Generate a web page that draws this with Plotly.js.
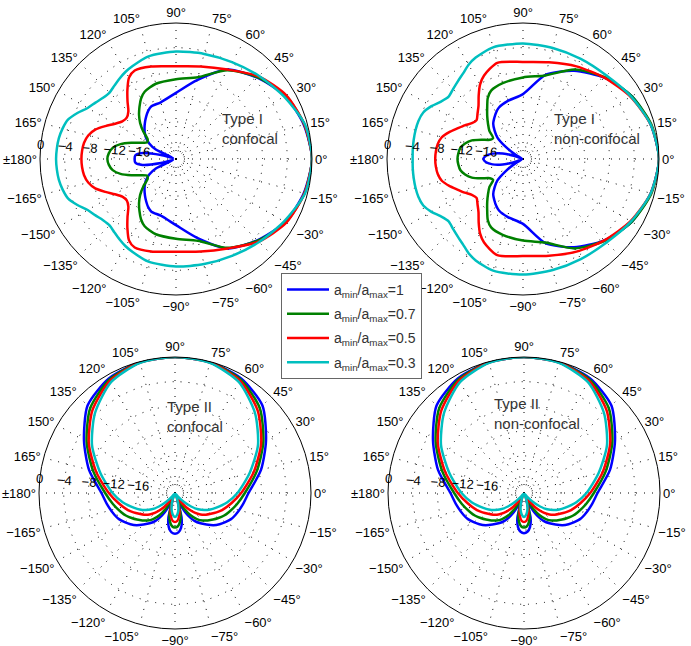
<!DOCTYPE html>
<html>
<head>
<meta charset="utf-8">
<script src="https://cdn.plot.ly/plotly-3.0.1.min.js"></script>
<style>html,body{margin:0;padding:0;background:#fff;}#chart{width:691px;height:646px;}</style>
</head>
<body>
<div id="chart"></div>
<script>
// ---- data (dB, normalised; center of plot = -22 dB) ----
const thetaI = [0,15,30,45,60,75,90,105,115,120,125,130,135,140,145,150,155,160,165,170,175,180,
  185,190,195,200,205,210,215,220,225,230,235,240,245,255,270,285,300,315,330,345,360];

const blueTL  = [0,-0.6,-1.6,-3.4,-5.3,-8.8,-11.3,-12.5,-12.6,-13.0,-13.6,-14.2,-14.8,-15.4,-16.1,-17.0,-18.4,-21.5,-19.5,-16.5,-15.4,-15.3,
  -15.4,-16.5,-19.5,-21.5,-18.4,-17.0,-16.1,-15.4,-14.8,-14.2,-13.6,-13.0,-12.6,-12.5,-11.3,-8.8,-5.3,-3.4,-1.6,-0.6,0];
const greenTL = [0,-0.5,-1.5,-3.3,-5.4,-8.3,-9.1,-9.4,-10.0,-10.7,-11.7,-12.7,-13.8,-15.1,-16.4,-16.6,-15.8,-14.3,-12.7,-11.6,-11.1,-10.9,
  -11.1,-11.6,-12.7,-14.3,-15.8,-16.6,-16.4,-15.1,-13.8,-12.7,-11.7,-10.7,-10.0,-9.4,-9.1,-8.3,-5.4,-3.3,-1.5,-0.5,0];
const redTL   = [0,-0.5,-1.4,-3.1,-5.3,-6.5,-7.0,-6.5,-6.2,-6.8,-8.3,-9.8,-11.1,-11.6,-11.4,-10.6,-9.4,-8.1,-7.3,-6.9,-6.75,-6.7,
  -6.75,-6.9,-7.3,-8.1,-9.4,-10.6,-11.4,-11.6,-11.1,-9.8,-8.3,-6.8,-6.2,-6.5,-7.0,-6.5,-5.3,-3.1,-1.4,-0.5,0];
const cyanTL  = [0,-0.4,-1.8,-3.0,-3.9,-4.4,-4.6,-4.8,-5.4,-5.7,-6.1,-6.5,-6.8,-6.6,-6.1,-5.5,-4.4,-3.4,-3.0,-2.75,-2.65,-2.6,
  -2.65,-2.75,-3.0,-3.4,-4.4,-5.5,-6.1,-6.6,-6.8,-6.5,-6.1,-5.7,-5.4,-4.8,-4.6,-4.4,-3.9,-3.0,-1.8,-0.4,0];

const blueTR  = [0,-0.6,-1.7,-3.4,-5.5,-7.9,-11.5,-12.3,-12.8,-13.3,-13.9,-14.5,-15.5,-16.6,-18.6,-20.5,-21.8,-20.6,-18.6,-17.0,-16.0,-15.6,
  -16.0,-17.0,-18.6,-20.6,-21.8,-20.5,-18.6,-16.6,-15.5,-14.5,-13.9,-13.3,-12.8,-12.3,-11.5,-7.9,-5.5,-3.4,-1.7,-0.6,0];
const greenTR = [0,-0.5,-1.7,-3.3,-5.3,-8.0,-8.8,-9.3,-9.8,-10.6,-11.9,-13.0,-14.0,-14.9,-16.1,-15.8,-14.6,-13.2,-12.3,-11.7,-11.5,-11.4,
  -11.5,-11.7,-12.3,-13.2,-14.6,-15.8,-16.1,-14.9,-14.0,-13.0,-11.9,-10.6,-9.8,-9.3,-8.8,-8.0,-5.3,-3.3,-1.7,-0.5,0];
const redTR   = [0,-0.6,-1.9,-3.4,-4.7,-5.8,-6.3,-5.9,-7.1,-8.1,-9.5,-10.8,-11.6,-12.2,-11.9,-11.1,-10.3,-9.3,-8.4,-8.0,-7.85,-7.8,
  -7.85,-8.0,-8.4,-9.3,-10.3,-11.1,-11.9,-12.2,-11.6,-10.8,-9.5,-8.1,-7.1,-5.9,-6.3,-5.8,-4.7,-3.4,-1.9,-0.6,0];
const cyanTR  = [0,-0.6,-1.8,-2.9,-3.3,-3.4,-3.3,-3.3,-3.9,-4.4,-5.1,-5.6,-6.0,-6.3,-5.8,-4.9,-4.2,-4.0,-4.0,-4.05,-4.1,-4.15,
  -4.1,-4.05,-4.0,-4.0,-4.2,-4.9,-5.8,-6.3,-6.0,-5.6,-5.1,-4.4,-3.9,-3.3,-3.3,-3.4,-3.3,-2.9,-1.8,-0.6,0];

const thetaII = [-90,-85,-80,-75,-70,-65,-60,-55,-50,-45,-40,-35,-30,-25,-20,-10,0,15,30,45,60,75,90,
  105,120,135,150,165,180,190,200,205,210,215,220,225,230,235,240,245,250,255,260,265,270];

const blueBL  = [-15.4,-15.6,-16.3,-17.9,-21.0,-19.6,-17.8,-16.5,-15.6,-14.8,-13.9,-13.2,-12.6,-12.0,-11.6,-10.9,-10.1,-7.6,-5.0,-2.0,-0.6,-0.1,0,
  -0.1,-0.6,-2.0,-5.0,-7.6,-10.1,-10.9,-11.6,-12.0,-12.6,-13.2,-13.9,-14.8,-15.6,-16.5,-17.8,-19.6,-21.0,-17.9,-16.3,-15.6,-15.4];
const greenBL = [-16.4,-16.6,-17.3,-18.6,-20.6,-21.0,-19.2,-17.6,-16.5,-15.7,-15.1,-14.5,-13.9,-13.3,-12.8,-11.8,-10.7,-8.3,-5.5,-2.6,-0.8,-0.1,0,
  -0.1,-0.8,-2.6,-5.5,-8.3,-10.7,-11.8,-12.8,-13.3,-13.9,-14.5,-15.1,-15.7,-16.5,-17.6,-19.2,-21.0,-20.6,-18.6,-17.3,-16.6,-16.4];
const redBL   = [-17.3,-17.5,-18.2,-19.3,-20.8,-21.6,-21.2,-19.9,-18.6,-17.5,-16.6,-15.9,-15.3,-14.6,-13.9,-12.7,-11.3,-8.8,-5.9,-3.1,-1.0,-0.15,0,
  -0.15,-1.0,-3.1,-5.9,-8.8,-11.3,-12.7,-13.9,-14.6,-15.3,-15.9,-16.6,-17.5,-18.6,-19.9,-21.2,-21.6,-20.8,-19.3,-18.2,-17.5,-17.3];
const cyanBL  = [-18.1,-18.4,-19.0,-19.9,-21.0,-21.8,-21.8,-21.8,-21.3,-20.0,-18.6,-17.4,-16.5,-15.7,-15.0,-13.4,-11.9,-9.5,-6.5,-3.7,-1.3,-0.2,0,
  -0.2,-1.3,-3.7,-6.5,-9.5,-11.9,-13.4,-15.0,-15.7,-16.5,-17.4,-18.6,-20.0,-21.3,-21.8,-21.8,-21.8,-21.0,-19.9,-19.0,-18.4,-18.1];

const blueBR  = [-15.5,-15.7,-16.4,-17.9,-21.0,-19.6,-17.8,-16.5,-15.6,-14.8,-13.9,-13.2,-12.6,-12.0,-11.6,-10.9,-10.1,-7.6,-5.0,-2.0,-0.6,-0.1,0,
  -0.1,-0.6,-2.0,-5.0,-7.6,-10.1,-10.9,-11.6,-12.0,-12.6,-13.2,-13.9,-14.8,-15.6,-16.5,-17.8,-19.6,-21.0,-17.9,-16.4,-15.7,-15.5];
const greenBR = [-16.4,-16.6,-17.3,-18.6,-20.6,-21.0,-19.2,-17.6,-16.5,-15.7,-15.1,-14.5,-13.9,-13.3,-12.8,-11.8,-10.7,-8.3,-5.5,-2.6,-0.8,-0.1,0,
  -0.1,-0.8,-2.6,-5.5,-8.3,-10.7,-11.8,-12.8,-13.3,-13.9,-14.5,-15.1,-15.7,-16.5,-17.6,-19.2,-21.0,-20.6,-18.6,-17.3,-16.6,-16.4];
const redBR   = [-17.3,-17.5,-18.2,-19.3,-20.8,-21.6,-21.2,-19.9,-18.6,-17.5,-16.6,-15.9,-15.3,-14.6,-13.9,-12.7,-11.3,-8.8,-5.9,-3.1,-1.0,-0.15,0,
  -0.15,-1.0,-3.1,-5.9,-8.8,-11.3,-12.7,-13.9,-14.6,-15.3,-15.9,-16.6,-17.5,-18.6,-19.9,-21.2,-21.6,-20.8,-19.3,-18.2,-17.5,-17.3];
const cyanBR  = [-18.1,-18.4,-19.0,-19.9,-21.0,-21.8,-21.8,-21.8,-21.3,-20.0,-18.6,-17.4,-16.5,-15.7,-15.0,-13.4,-11.9,-9.5,-6.5,-3.7,-1.3,-0.2,0,
  -0.2,-1.3,-3.7,-6.5,-9.5,-11.9,-13.4,-15.0,-15.7,-16.5,-17.4,-18.6,-20.0,-21.3,-21.8,-21.8,-21.8,-21.0,-19.9,-19.0,-18.4,-18.1];

const seriesNames = ['a<sub>min</sub>/a<sub>max</sub>=1','a<sub>min</sub>/a<sub>max</sub>=0.7','a<sub>min</sub>/a<sub>max</sub>=0.5','a<sub>min</sub>/a<sub>max</sub>=0.3'];
const seriesColors = ['#0000ff','#008000','#ff0000','#00bfbf'];

const angTickVals = [0,15,30,45,60,75,90,105,120,135,150,165,180,195,210,225,240,255,270,285,300,315,330,345];
const angTickText = ['0°','15°','30°','45°','60°','75°','90°','105°','120°','135°','150°','165°','±180°',
  '−165°','−150°','−135°','−120°','−105°','−90°','−75°','−60°','−45°','−30°','−15°'];
const radTickVals = [-20,-16,-12,-8,-4,0];
const radTickText = ['','−16','−12','−8','−4','0'];

const panelTitles = ['Type I<br>confocal','Type I<br>non-confocal','Type II<br>confocal','Type II<br>non-confocal'];

// ---- build ----
const panels = [
  {sub:'polar',  theta:thetaI,  rs:[blueTL,greenTL,redTL,cyanTL]},
  {sub:'polar2', theta:thetaI,  rs:[blueTR,greenTR,redTR,cyanTR]},
  {sub:'polar3', theta:thetaII, rs:[blueBL,greenBL,redBL,cyanBL]},
  {sub:'polar4', theta:thetaII, rs:[blueBR,greenBR,redBR,cyanBR]}
];
const traces = [];
panels.forEach((p,pi)=>{
  p.rs.forEach((r,si)=>{
    traces.push({type:'scatterpolar', subplot:p.sub, theta:p.theta, r:r, mode:'lines',
      line:{color:seriesColors[si], width:2.5, shape:'spline', smoothing:0.7},
      name:seriesNames[si], showlegend: pi===0, legendgroup:'g'+si, hoverinfo:'skip'});
  });
});

function polarCfg(x0,x1,y0,y1){
  return {
    domain:{x:[x0/691,x1/691], y:[1-y1/646,1-y0/646]},
    bgcolor:'rgba(0,0,0,0)',
    radialaxis:{range:[-22,0], tickvals:radTickVals, ticktext:radTickText, angle:176, tickangle:180,
      showline:false, ticks:'', gridcolor:'#000', griddash:'1px,7px', gridwidth:1,
      tickfont:{family:'Arial, Liberation Sans, sans-serif', size:13, color:'#000'}},
    angularaxis:{tickvals:angTickVals, ticktext:angTickText, direction:'counterclockwise', rotation:0,
      showline:true, linecolor:'#000', linewidth:1, ticks:'', gridcolor:'#000', griddash:'1px,7px', gridwidth:1,
      tickfont:{family:'Arial, Liberation Sans, sans-serif', size:13, color:'#000'}}
  };
}

const annFont = {family:'Arial, Liberation Sans, sans-serif', size:15, color:'#333'};
function ann(i,cx,cy){
  return {text:panelTitles[i], x:cx/691, y:1-cy/646, xref:'paper', yref:'paper', showarrow:false,
    xanchor:'center', yanchor:'middle', align:'left', font:annFont};
}
const layout = {
  width:691, height:646, margin:{l:0,r:0,t:0,b:0}, paper_bgcolor:'#fff',
  showlegend:true,
  polar:  polarCfg(40,312,23,295),
  polar2: polarCfg(387,659,23,295),
  polar3: polarCfg(39,311,357,629),
  polar4: polarCfg(388,660,357,629),
  legend:{x:281/691, y:1-273/646, xanchor:'left', yanchor:'top', bgcolor:'#fff', bordercolor:'#666', borderwidth:1,
    itemwidth:42, tracegroupgap:3, traceorder:'grouped',
    font:{family:'Arial, Liberation Sans, sans-serif', size:14, color:'#333'}},
  annotations:[ann(0,250,129), ann(1,597,129), ann(2,195,416), ann(3,537,413)]
};
Plotly.newPlot('chart', traces, layout, {staticPlot:true, displayModeBar:false});
</script>
</body>
</html>
